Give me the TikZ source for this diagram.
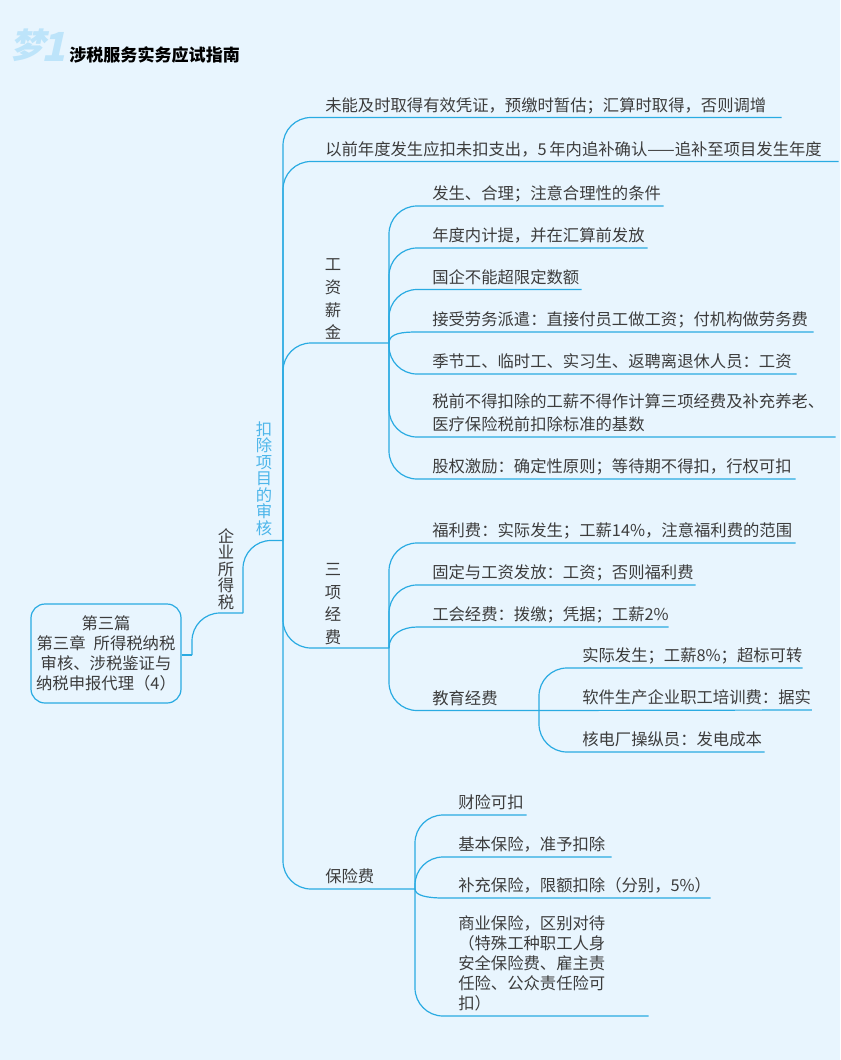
\documentclass[tikz,border=0pt]{standalone}
\usepackage{fontspec}
\setmainfont{Noto Sans CJK SC}
\newfontfamily\logofont[FakeSlant=0.22]{Noto Sans CJK SC}
\usepackage{xcolor}
\usetikzlibrary{positioning}
\definecolor{paper}{HTML}{E8F5FE}
\definecolor{wire}{HTML}{29ABE2}
\definecolor{ink}{HTML}{3C3C3C}
\definecolor{logoblue}{HTML}{BDE4FA}
\definecolor{skyink}{HTML}{4DB6EA}

\begin{document}
\begin{tikzpicture}[
  x=0.75pt, y=-0.75pt,
  every node/.style={text=ink},
  item/.style={anchor=south west, inner xsep=0pt, inner ysep=0pt, align=left,
               font=\fontsize{12.25}{15}\selectfont,
               execute at begin node=\strut, execute at end node=\strut},
  stack/.style={anchor=south, inner sep=0pt, align=center,
                font=\fontsize{12.25}{17}\selectfont},
  tight/.style={anchor=south, inner sep=0pt, align=center,
                font=\fontsize{12.25}{12.4}\selectfont},
  branch/.style={draw=wire, line width=0.9pt, rounded corners=21pt},
  plain/.style={draw=wire, line width=0.9pt}
]
  \fill[paper] (0,0) rectangle (840,1060);
  \useasboundingbox (0,0) rectangle (840,1060);

  \node[inner sep=0pt, text=logoblue, font=\logofont\bfseries\fontsize{26}{26}\selectfont] (logo) at (28,45) {梦};
  \node[inner sep=0pt, text=logoblue, font=\logofont\bfseries\fontsize{30}{30}\selectfont] (logoone) at (54,47) {1};
  \node[anchor=west, inner sep=0pt, text=black, font=\bfseries\fontsize{12.8}{15}\selectfont] (title) at (69,55) {涉税服务实务应试指南};

  \node[draw=wire, line width=0.9pt, rounded corners=10.5pt, minimum width=112.5pt, minimum height=74.25pt,
        inner sep=0pt, align=center, font=\fontsize{12.25}{15}\selectfont] (root) at (106,653.5)
    {第三篇\\第三章\hspace{0.5em}所得税纳税\\审核、涉税鉴证与\\纳税申报代理（4）};

  \coordinate (jroot) at (192,655);
  \coordinate (jtax) at (243,613);
  \coordinate (trunk) at (283,540.5);
  \coordinate (jwage) at (389,343);
  \coordinate (jfee) at (389,648);
  \coordinate (jedu) at (539,710.5);
  \coordinate (jins) at (415,889);

  \node[tight] (tax) at (226,610) {企\\业\\所\\得\\税};
  \node[tight, text=skyink] (audit) at (264,536) {扣\\除\\项\\目\\的\\审\\核};

  \node[item, text width=342pt] (late) at (325,117.5) {未能及时取得有效凭证，预缴时暂估；汇算时取得，否则调增};
  \node[item, text width=384.75pt] (prior) at (325,161.5) {以前年度发生应扣未扣支出，5\,年内追补确认——追补至项目发生年度};

  \node[stack] (wage) at (333,340) {工\\资\\薪\\金};
  \node[item, text width=173.25pt] (wa) at (432,206) {发生、合理；注意合理性的条件};
  \node[item, text width=161.25pt] (wb) at (432,248) {年度内计提，并在汇算前发放};
  \node[item, text width=111.75pt] (wc) at (432,289.5) {国企不能超限定数额};
  \node[item, text width=285.75pt] (wd) at (432,332) {接受劳务派遣：直接付员工做工资；付机构做劳务费};
  \node[item, text width=273pt] (we) at (432,374) {季节工、临时工、实习生、返聘离退休人员：工资};
  \node[item, text width=302.25pt] (wf) at (432,437) {税前不得扣除的工薪不得作计算三项经费及补充养老、\\[2.25pt]医疗保险税前扣除标准的基数};
  \node[item, text width=272.25pt] (wg) at (432,479) {股权激励：确定性原则；等待期不得扣，行权可扣};

  \node[stack] (fee) at (333,645) {三\\项\\经\\费};
  \node[item, text width=272.25pt] (fa) at (432,543) {福利费：实际发生；工薪14\%，注意福利费的范围};
  \node[item, text width=197.25pt] (fb) at (432,585) {固定与工资发放：工资；否则福利费};
  \node[item, text width=177pt] (fc) at (432,627) {工会经费：拨缴；凭据；工薪2\%};
  \node[item, text width=80pt] (edu) at (432,710.5) {教育经费};
  \node[item, text width=165pt] (ea) at (582,668) {实际发生；工薪8\%；超标可转};
  \node[item, text width=172pt] (eb) at (582,710) {软件生产企业职工培训费：据实};
  \node[item, text width=136.5pt] (ec) at (582,752) {核电厂操纵员：发电成本};

  \node[item, text width=60pt] (ins) at (325,889) {保险费};
  \node[item, text width=51pt] (ia) at (458,815) {财险可扣};
  \node[item, text width=114.75pt] (ib) at (458,857) {基本保险，准予扣除};
  \node[item, text width=189pt] (ic) at (458,898) {补充保险，限额扣除（分别，5\%）};
  \node[item, text width=142.5pt] (id) at (458,1016) {商业保险，区别对待\\（特殊工种职工人身\\安全保险费、雇主责\\任险、公众责任险可\\扣）};

  \draw[plain] (jroot -| root.east) -- (jroot);
  \draw[branch] (jroot) |- (jtax);
  \draw[branch] (jtax) |- (trunk);

  \draw[branch] (trunk) |- (late.south east);
  \draw[branch] (trunk) |- (prior.south east);
  \draw[branch] (trunk) |- (jwage);
  \draw[branch] (trunk) |- (jfee);
  \draw[branch] (trunk) |- (jins);

  \draw[branch] (jwage) |- (wa.south east);
  \draw[branch] (jwage) |- (wb.south east);
  \draw[branch] (jwage) |- (wc.south east);
  \draw[plain] (jwage) .. controls +(0,-10) and +(-14,0) .. +(28,-11) -- (wd.south east);
  \draw[branch] (jwage) |- (we.south east);
  \draw[branch] (jwage) |- (wf.south east);
  \draw[branch] (jwage) |- (wg.south east);

  \draw[branch] (jfee) |- (fa.south east);
  \draw[branch] (jfee) |- (fb.south east);
  \draw[plain] (jfee) .. controls +(0,-14) and +(-14,0) .. +(28,-21) -- (fc.south east);
  \draw[branch] (jfee) |- (jedu);

  \draw[branch] (jedu) |- (ea.south east);
  \draw[plain] (jedu) -- (eb.south east);
  \draw[branch] (jedu) |- (ec.south east);

  \draw[branch] (jins) |- (ia.south east);
  \draw[branch] (jins) |- (ib.south east);
  \draw[plain] (jins) .. controls +(0,7) and +(-14,0) .. +(28,9) -- (ic.south east);
  \draw[branch] (jins) |- (id.south east);
\end{tikzpicture}
\end{document}
